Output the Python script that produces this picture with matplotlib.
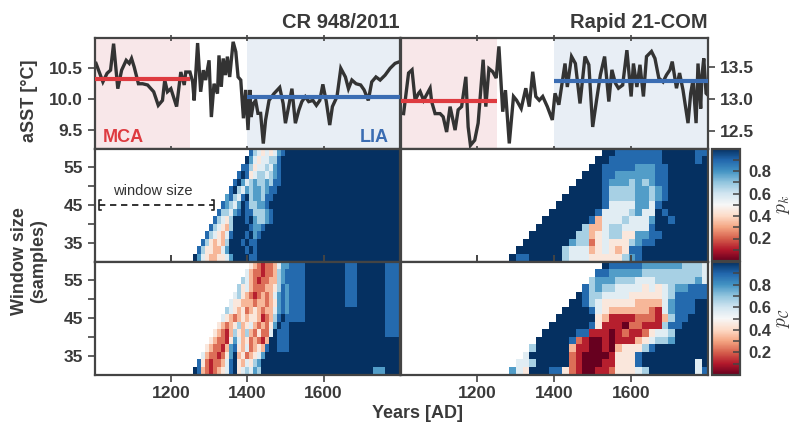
import numpy as np
import matplotlib
matplotlib.use("Agg")
import matplotlib.pyplot as plt
from matplotlib.ticker import FixedLocator

plt.rcParams['font.family'] = ['Liberation Sans', 'DejaVu Sans']
plt.rcParams['font.weight'] = 'bold'
plt.rcParams['mathtext.fontset'] = 'cm'
TXT = '#3a3a3a'
SPN = '#444444'

# ---------------- data: sea surface temperature records ----------------
cr_years = [1004, 1022, 1033, 1042, 1050, 1061, 1071, 1083, 1091, 1097, 1104, 1115, 1126, 1139,
            1155, 1167, 1178, 1184, 1191, 1200, 1215, 1226, 1235, 1239, 1250, 1257, 1261, 1270,
            1278, 1285, 1291, 1300, 1306, 1313, 1322, 1326, 1332, 1337, 1343, 1348, 1354, 1363,
            1370, 1376, 1383, 1390, 1396, 1402, 1407, 1410, 1416, 1422, 1428, 1435, 1442, 1448,
            1457, 1470, 1485, 1494, 1500, 1509, 1517, 1526, 1535, 1543, 1552, 1561, 1572, 1581,
            1590, 1598, 1607, 1616, 1623, 1635, 1645, 1657, 1665, 1674, 1685, 1697, 1706, 1717,
            1726, 1737, 1748, 1761, 1774, 1787, 1800]
cr_sst = [10.58, 10.28, 10.42, 10.47, 10.90, 10.17, 10.47, 10.63, 10.58, 10.66, 10.52, 10.25,
          10.25, 10.23, 10.12, 9.90, 9.98, 10.31, 10.12, 10.17, 9.88, 10.44, 10.23, 10.44, 10.44,
          10.28, 9.98, 10.91, 10.12, 10.47, 10.31, 10.63, 9.71, 10.25, 10.09, 10.71, 10.20, 10.66,
          10.39, 10.69, 10.36, 10.93, 10.77, 10.36, 10.31, 9.69, 10.15, 9.50, 10.15, 9.71, 9.93,
          9.98, 9.77, 9.77, 9.28, 9.66, 9.98, 10.09, 10.19, 9.93, 9.61, 9.90, 10.17, 9.61, 9.82,
          9.96, 10.04, 9.96, 9.98, 9.90, 9.98, 10.24, 9.96, 9.58, 9.88, 10.04, 10.50, 10.36, 10.17,
          10.31, 10.25, 10.23, 10.15, 9.98, 10.28, 10.36, 10.31, 10.39, 10.50, 10.58, 10.61]

rp_years = [1008, 1021, 1030, 1038, 1047, 1051, 1060, 1077, 1081, 1090, 1103, 1111, 1120, 1129,
            1142, 1150, 1159, 1170, 1176, 1182, 1193, 1202, 1215, 1222, 1230, 1240, 1249, 1256,
            1266, 1273, 1283, 1294, 1302, 1314, 1326, 1335, 1344, 1352, 1361, 1370, 1382, 1395,
            1402, 1412, 1428, 1434, 1445, 1455, 1467, 1480, 1490, 1500, 1510, 1520, 1531, 1542,
            1550, 1559, 1567, 1578, 1589, 1600, 1606, 1615, 1623, 1632, 1640, 1653, 1662, 1672,
            1683, 1692, 1701, 1707, 1718, 1726, 1735, 1748, 1755, 1761, 1769, 1774, 1781, 1784,
            1789, 1795, 1800]
rp_sst = [12.77, 13.41, 13.46, 12.98, 13.09, 13.12, 12.98, 13.17, 12.96, 12.77, 12.77, 12.72,
          12.48, 12.88, 12.51, 12.83, 12.88, 13.35, 12.56, 12.27, 12.35, 12.62, 13.62, 12.88,
          13.48, 13.43, 13.33, 13.83, 12.80, 13.14, 12.30, 13.04, 12.98, 12.85, 13.17, 12.88,
          13.43, 13.04, 12.98, 13.04, 12.88, 12.67, 13.09, 12.91, 13.56, 13.19, 13.67, 13.56,
          12.93, 13.67, 13.54, 12.56, 12.98, 13.38, 13.67, 12.96, 13.46, 13.25, 13.17, 13.22,
          13.77, 13.04, 13.56, 13.19, 13.54, 13.04, 13.67, 13.75, 13.64, 13.33, 13.27, 13.38,
          13.46, 13.59, 13.17, 13.41, 13.14, 12.62, 13.09, 13.30, 12.62, 13.56, 12.85, 13.35,
          13.64, 13.09, 13.06]

titles = ["CR 948/2011", "Rapid 21-COM"]
mca_period = [1000, 1250]
lia_period = [1400, 1800]
mca_mean = [10.33, 12.97]
lia_mean = [10.03, 13.29]

# ---------------- data: sliding-window probabilities ----------------
# one character per cell: '.' = no value, digit d = probability d/9
# rows listed from the largest window (top) to the smallest (bottom)
cr_pk_rows = [
    ".............." "865454578" "9999999999" "9999999999" "999999999",
    "............." "9754556689" "9999999999" "9999999999" "999999999",
    "............" "88645565789" "9999999999" "9999999999" "999999999",
    "..........." "898456656789" "9999999999" "9999999999" "999999999",
    ".........." "8975676676889" "9999999999" "9999999999" "999999999",
    "........." "8965767767889" "9999999999" "9999999999" "9999999999",
    "........" "7865896776889" "9999999999" "9999999999" "9999999999" "9",
    "......." "8765798667789" "9999999999" "9999999999" "9999999999" "99",
    "......" "866578988666789" "9999999999" "9999999999" "9999999999" "9",
    "....." "8654699989766789" "9999999999" "9999999999" "9999999999" "9",
    "...." "865436999987789" "9999999999" "9999999999" "9999999999" "999",
    "..." "865435899989789" "9999999999" "9999999999" "9999999999" "9999",
    ".." "864343699989889" "9999999999" "9999999999" "9999999999" "99999",
    "." "8644335799998989" "9999999999" "9999999999" "9999999999" "99999",
    "97543344579999889" "9999999999" "9999999999" "9999999999" "99999",
]
cr_pc_rows = [
    ".............." "432122357788" "88" "9999999999" "888" "9999999" "8888",
    "............." "532212236788" "888" "9999999999" "888" "9999999" "8888",
    "............" "653212233678" "8888" "9999999999" "888" "9999999" "8888",
    "..........." "645322233468" "7" "8888" "9999999999" "888" "9999999" "8888",
    ".........." "5643212323578" "7" "8888" "9999999999" "888" "9999999" "8888",
    "........." "54433323323478" "7" "8888" "9999999999" "888" "9999999" "8888",
    "........" "654342343233578" "7" "8888" "9999999999" "999" "9999999" "8888",
    "......." "5432343443123689" "8" "8888" "9999999999" "999" "9999999" "8888",
    "......" "4323463453232479" "88" "9999" "9999999999" "999" "9999999" "8888",
    "....." "4321364363242259" "888" "9999" "9999999999" "999" "9999999" "8888",
    "...." "4322147534232139" "9" "888" "9999" "9999999999" "999" "9999999" "9999",
    "..." "43221378435234389" "9" "888" "9999" "9999999999" "999" "9999999" "9999",
    ".." "53221247934234579" "99" "999" "9999" "9999999999" "999" "9999999" "9999",
    "." "84212235894354679" "999" "999" "9999" "9999999999" "999" "9999999" "9999",
    "983212345894565769" "999" "999" "9999" "9999999999" "999" "9999" "777" "9999",
]
rp_pk_rows = [
    ".............." "9988888889999988",
    "............." "99888888889999989",
    "............" "998888877788999999",
    "..........." "9998877777788999999",
    ".........." "99998777676788999999",
    "........." "999998666677678999999",
    "........" "9999998666677678999999",
    "......." "99999998555577589999999",
    "......" "9999999" "8" "5555" "6" "7" "55" "9" "8" "999999",
    "....." "9999999" "8" "3" "555" "6" "555" "7" "99" "8" "99999",
    "...." "9999999" "6" "33" "5" "66" "5555" "8" "99999999",
    "..." "9999999" "66" "34" "5" "66" "44" "77" "88" "9999999",
    ".." "9999999" "766" "2" "45444" "67" "88" "99999999",
    "." "9999999" "6555" "3" "4543" "4" "88" "9999999999",
    "9" "88" "99999" "6555" "44444" "678" "9999999999",
]
rp_pc_rows = [
    ".............." "9888887777776665",
    "............." "88777776666666665",
    "............" "677766655566666675",
    "..........." "8676655554545677888",
    ".........." "98665555444445688888",
    "........." "998654444433335788899",
    "........" "9999854333333215788899",
    "......." "999999" "43" "1111" "222" "1" "3" "6" "88" "999",
    "......" "999999" "8" "4" "111" "0" "22" "111" "6" "88" "9999",
    "....." "99999" "88" "111" "0" "1" "2" "11" "2" "4" "55" "6" "99999",
    "...." "99999" "8" "2" "1" "00" "1" "0" "111" "3" "4" "5" "66" "7" "99999",
    "..." "6" "99999" "3" "11" "00" "1" "0" "3" "444" "6" "8" "99999999",
    ".." "5" "999999" "2" "1" "0000" "1" "444" "8" "9999999999",
    "." "556" "99999" "2" "1" "000" "11" "444" "8" "99999999" "5" "9",
    "754" "999" "88" "4" "2" "1" "00" "11" "2" "444" "5" "6" "9999999" "5" "8",
]

# cell grid (years / window sizes)
cr_first_year, cr_cell = 1258, 10.5
rp_first_year, rp_cell = 1283, 17.25
win_edges = np.arange(30, 61, 2)


def decode(rows, ncol):
    for r in rows:
        assert len(r) == ncol, (len(r), r)
    arr = np.array([[np.nan if ch == '.' else int(ch) / 9.0 for ch in r] for r in rows[::-1]])
    return np.ma.masked_invalid(arr)


cr_pk = decode(cr_pk_rows, 52)
cr_pc = decode(cr_pc_rows, 52)
rp_pk = decode(rp_pk_rows, 30)
rp_pc = decode(rp_pc_rows, 30)
cr_xedges = cr_first_year + cr_cell * np.arange(53)
rp_xedges = rp_first_year + rp_cell * np.arange(31)

# ---------------- figure ----------------
W, H = 795, 434
fig = plt.figure(figsize=(W / 100, H / 100), dpi=100)


def ax_at(x0, y0, x1, y1):
    return fig.add_axes([x0 / W, 1 - y1 / H, (x1 - x0) / W, (y1 - y0) / H])


colL = (94.5, 400)
colR = (400.5, 708)
rowT = (37.5, 148.5)
rowM = (148.5, 261.5)
rowB = (261.5, 374.5)

axTL = ax_at(colL[0], rowT[0], colL[1], rowT[1])
axTR = ax_at(colR[0], rowT[0], colR[1], rowT[1])
axML = ax_at(colL[0], rowM[0], colL[1], rowM[1])
axMR = ax_at(colR[0], rowM[0], colR[1], rowM[1])
axBL = ax_at(colL[0], rowB[0], colL[1], rowB[1])
axBR = ax_at(colR[0], rowB[0], colR[1], rowB[1])
caxM = ax_at(712, 148.5, 740, 261)
caxB = ax_at(712, 262, 740, 375)

MCA_BG = '#f8e7e9'
LIA_BG = '#e8eef5'
RED = '#de3b40'
BLUE = '#3b6db3'
LINE = '#333333'

for ax in fig.axes:
    for s in ax.spines.values():
        s.set_color(SPN)
        s.set_linewidth(1.6)
    ax.tick_params(colors=SPN, labelcolor=TXT, width=1.2, labelsize=12.5)

# top row time series
for i, (ax, yrs, sst) in enumerate([(axTL, cr_years, cr_sst), (axTR, rp_years, rp_sst)]):
    ax.axvspan(mca_period[0], mca_period[1], color=MCA_BG, lw=0, zorder=0)
    ax.axvspan(lia_period[0], lia_period[1], color=LIA_BG, lw=0, zorder=0)
    ax.plot(yrs, sst, color=LINE, lw=2.4, zorder=2, solid_joinstyle='miter')
    ax.plot(mca_period, [mca_mean[i]] * 2, color=RED, lw=3, zorder=3, solid_capstyle='butt')
    ax.plot(lia_period, [lia_mean[i]] * 2, color=BLUE, lw=3, zorder=3, solid_capstyle='butt')
    ax.set_xlim(1000, 1800)
    ax.set_title(titles[i], loc='right', fontsize=14.5, fontweight='bold', color=TXT, pad=7)
    ax.xaxis.set_major_locator(FixedLocator([1200, 1400, 1600]))
    ax.tick_params(axis='x', top=True, bottom=True, labelbottom=False, labeltop=False,
                   direction='out', length=5)
    ax.tick_params(axis='x', which='major', bottom=True, direction='inout', length=5)

axTL.set_ylim(9.2, 11.0)
axTL.yaxis.set_major_locator(FixedLocator([9.5, 10.0, 10.5]))
axTL.set_yticklabels(['9.5', '10.0', '10.5'])
axTL.tick_params(axis='y', direction='out', length=5)
axTL.text(1022, 9.38, 'MCA', color=RED, fontsize=13, fontweight='bold', va='center', ha='left')
axTL.text(1770, 9.38, 'LIA', color=BLUE, fontsize=13, fontweight='bold', va='center', ha='right')

axTR.set_ylim(12.22, 13.97)
axTR.yaxis.tick_right()
axTR.yaxis.set_major_locator(FixedLocator([12.5, 13.0, 13.5]))
axTR.set_yticklabels(['12.5', '13.0', '13.5'])
axTR.tick_params(axis='y', direction='out', length=5)

# heatmaps
cmap = plt.get_cmap('RdBu')
meshes = {}
for ax, xe, Z, key in [(axML, cr_xedges, cr_pk, 'k'), (axMR, rp_xedges, rp_pk, 'k'),
                       (axBL, cr_xedges, cr_pc, 'c'), (axBR, rp_xedges, rp_pc, 'c')]:
    m = ax.pcolormesh(xe, win_edges, Z, cmap=cmap, vmin=0, vmax=1, shading='flat',
                      edgecolors='face', linewidth=0.0, antialiased=False)
    meshes[key] = m
    ax.set_xlim(1000, 1800)
    ax.set_ylim(30, 60)
    ax.set_facecolor('white')
    ax.xaxis.set_major_locator(FixedLocator([1200, 1400, 1600]))

for ax in (axML, axBL):
    ax.yaxis.set_major_locator(FixedLocator([35, 45, 55]))
    ax.yaxis.set_minor_locator(FixedLocator([40, 50]))
    ax.tick_params(axis='y', which='both', direction='out', length=5, width=1.2, colors=SPN,
                   labelcolor=TXT)
for ax in (axMR, axBR):
    ax.tick_params(axis='y', left=False, labelleft=False)

for ax in (axML, axMR):
    ax.tick_params(axis='x', bottom=True, top=False, labelbottom=False, direction='in', length=5)
for ax in (axBL, axBR):
    ax.tick_params(axis='x', bottom=True, top=True, labelbottom=True, direction='out', length=5)
    ax.tick_params(axis='x', which='major', top=True, direction='out', length=5)

# window-size annotation
ws_x0, ws_x1, ws_y = 1012, 1312, 45
axML.plot([ws_x0, ws_x1], [ws_y, ws_y], color='#222222', lw=1.3, ls=(0, (3.5, 2.6)))
axML.plot([ws_x0 + 5, ws_x0, ws_x0, ws_x0 + 5], [ws_y - 1.4, ws_y - 1.4, ws_y + 1.4, ws_y + 1.4],
          color='#222222', lw=1.2)
axML.plot([ws_x1 - 5, ws_x1, ws_x1, ws_x1 - 5], [ws_y - 1.4, ws_y - 1.4, ws_y + 1.4, ws_y + 1.4],
          color='#222222', lw=1.2)
axML.text(1048, 48.6, 'window size', fontsize=10.5, fontweight='normal', color='#333333',
          va='center', ha='left')

# colorbars
for cax, key, lab in [(caxM, 'k', r'$p_k$'), (caxB, 'c', r'$p_{\mathcal{C}}$')]:
    cb = fig.colorbar(meshes[key], cax=cax)
    cb.outline.set_edgecolor(SPN)
    cb.outline.set_linewidth(1.6)
    cb.set_ticks([0.2, 0.4, 0.6, 0.8])
    cb.ax.yaxis.set_minor_locator(FixedLocator([0.1, 0.3, 0.5, 0.7, 0.9]))
    cb.ax.set_yticklabels(['0.2', '0.4', '0.6', '0.8'])
    cb.ax.tick_params(which='both', direction='in', length=5, width=1.1, colors=SPN,
                      labelcolor=TXT, labelsize=12, pad=6)
    cb.set_label(lab, fontsize=14, color=TXT, rotation=90, labelpad=3)

# figure-level labels
fig.text(30 / W, 1 - 101 / H, 'aSST [°C]', rotation=90, ha='center', va='center',
         fontsize=13, fontweight='bold', color=TXT)
fig.text(29 / W, 1 - 261 / H, 'Window size\n(samples)', rotation=90, ha='center', va='center',
         fontsize=13, fontweight='bold', color=TXT, linespacing=1.15)
fig.text(418 / W, 1 - 414 / H, 'Years [AD]', ha='center', va='center',
         fontsize=13, fontweight='bold', color=TXT)

fig.savefig('out.png', dpi=100)
